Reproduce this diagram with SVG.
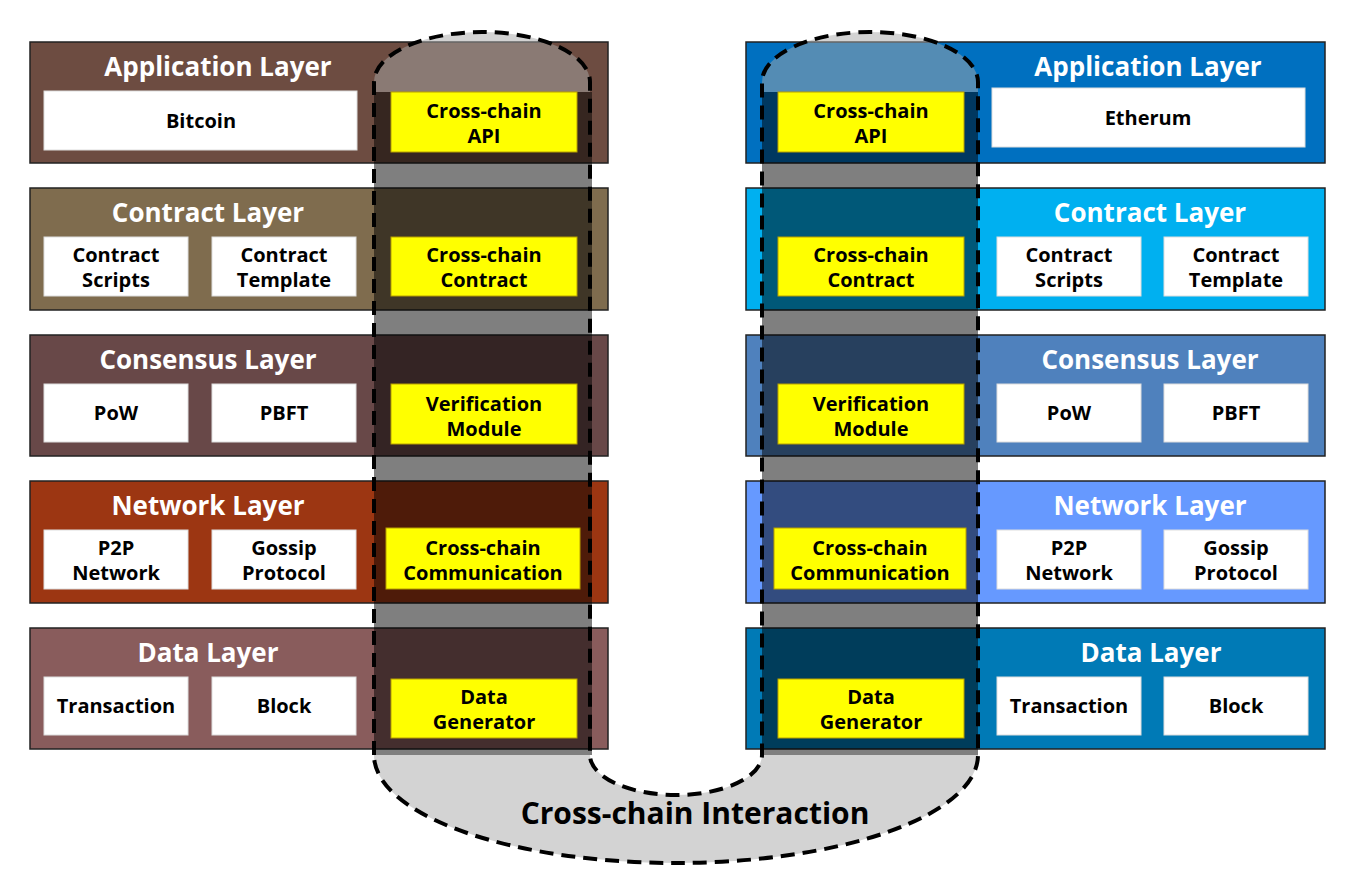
<svg xmlns="http://www.w3.org/2000/svg" width="1355" height="894" viewBox="0 0 1355 894">
<style>
text{font-family:"Open Sans","Noto Sans","DejaVu Sans",sans-serif;font-weight:700;text-anchor:middle}
.layer{stroke:#222;stroke-width:1.5}
.title{fill:#fff;font-size:26px}
.wb{fill:#fff;stroke:#ddd;stroke-width:1}
.yb{fill:#ffff00;stroke:#b8a000;stroke-width:1}
.bt{fill:#000;font-size:20px}
.light{fill:#a7a7a7;fill-opacity:0.5}
.dark{fill:#000;fill-opacity:0.5}
.outline{fill:none;stroke:#000;stroke-width:4;stroke-dasharray:14 8}
</style>
<rect width="1355" height="894" fill="#fff"/>
<!-- left chain -->
<g id="left-application">
<rect class="layer" x="30" y="42" width="578" height="121" fill="#6d4c41"/>
<text class="title" x="218" y="76">Application Layer</text>
<rect class="wb" x="44" y="91" width="313" height="59"/>
<text class="bt" x="201" y="128">Bitcoin</text>
</g>
<g id="left-contract">
<rect class="layer" x="30" y="188" width="578" height="122" fill="#7f6c4e"/>
<text class="title" x="208" y="222">Contract Layer</text>
<rect class="wb" x="44" y="237" width="144" height="59"/>
<text class="bt" x="116" y="262">Contract<tspan x="116" dy="25">Scripts</tspan></text>
<rect class="wb" x="212" y="237" width="144" height="59"/>
<text class="bt" x="284" y="262">Contract<tspan x="284" dy="25">Template</tspan></text>
</g>
<g id="left-consensus">
<rect class="layer" x="30" y="335" width="578" height="121" fill="#684848"/>
<text class="title" x="208" y="369">Consensus Layer</text>
<rect class="wb" x="44" y="384" width="144" height="58"/>
<text class="bt" x="116" y="420">PoW</text>
<rect class="wb" x="212" y="384" width="144" height="58"/>
<text class="bt" x="284" y="420">PBFT</text>
</g>
<g id="left-network">
<rect class="layer" x="30" y="481" width="578" height="122" fill="#9c3612"/>
<text class="title" x="208" y="515">Network Layer</text>
<rect class="wb" x="44" y="530" width="144" height="59"/>
<text class="bt" x="116" y="555">P2P<tspan x="116" dy="25">Network</tspan></text>
<rect class="wb" x="212" y="530" width="144" height="59"/>
<text class="bt" x="284" y="555">Gossip<tspan x="284" dy="25">Protocol</tspan></text>
</g>
<g id="left-data">
<rect class="layer" x="30" y="628" width="578" height="121" fill="#895c5c"/>
<text class="title" x="208" y="662">Data Layer</text>
<rect class="wb" x="44" y="677" width="144" height="58"/>
<text class="bt" x="116" y="713">Transaction</text>
<rect class="wb" x="212" y="677" width="144" height="58"/>
<text class="bt" x="284" y="713">Block</text>
</g>
<!-- right chain -->
<g id="right-application">
<rect class="layer" x="746" y="42" width="579" height="121" fill="#0070c0"/>
<text class="title" x="1148" y="76">Application Layer</text>
<rect class="wb" x="992" y="88" width="313" height="59"/>
<text class="bt" x="1148" y="125">Etherum</text>
</g>
<g id="right-contract">
<rect class="layer" x="746" y="188" width="579" height="122" fill="#00b0f0"/>
<text class="title" x="1150" y="222">Contract Layer</text>
<rect class="wb" x="997" y="237" width="144" height="59"/>
<text class="bt" x="1069" y="262">Contract<tspan x="1069" dy="25">Scripts</tspan></text>
<rect class="wb" x="1164" y="237" width="144" height="59"/>
<text class="bt" x="1236" y="262">Contract<tspan x="1236" dy="25">Template</tspan></text>
</g>
<g id="right-consensus">
<rect class="layer" x="746" y="335" width="579" height="121" fill="#4f81bd"/>
<text class="title" x="1150" y="369">Consensus Layer</text>
<rect class="wb" x="997" y="384" width="144" height="58"/>
<text class="bt" x="1069" y="420">PoW</text>
<rect class="wb" x="1164" y="384" width="144" height="58"/>
<text class="bt" x="1236" y="420">PBFT</text>
</g>
<g id="right-network">
<rect class="layer" x="746" y="481" width="579" height="122" fill="#6699ff"/>
<text class="title" x="1150" y="515">Network Layer</text>
<rect class="wb" x="997" y="530" width="144" height="59"/>
<text class="bt" x="1069" y="555">P2P<tspan x="1069" dy="25">Network</tspan></text>
<rect class="wb" x="1164" y="530" width="144" height="59"/>
<text class="bt" x="1236" y="555">Gossip<tspan x="1236" dy="25">Protocol</tspan></text>
</g>
<g id="right-data">
<rect class="layer" x="746" y="628" width="579" height="121" fill="#007ab6"/>
<text class="title" x="1151" y="662">Data Layer</text>
<rect class="wb" x="997" y="677" width="144" height="58"/>
<text class="bt" x="1069" y="713">Transaction</text>
<rect class="wb" x="1164" y="677" width="144" height="58"/>
<text class="bt" x="1236" y="713">Block</text>
</g>
<!-- cross-chain interaction overlay -->
<g id="interaction-overlay">
<path class="light" d="M374,92 V82 A108,50 0 0 1 590,82 V92 Z"/>
<path class="light" d="M762,92 V82 A108,50 0 0 1 978,82 V92 Z"/>
<rect class="dark" x="374" y="92" width="218" height="663"/>
<rect class="dark" x="762" y="92" width="216" height="663"/>
<path class="light" d="M374,755 A302,108 0 0 0 978,755 H762 A86,40 0 0 1 590,755 Z"/>
</g>
<!-- cross-chain modules -->
<g id="left-api"><rect class="yb" x="391" y="92" width="186" height="60"/><text class="bt" x="484" y="118">Cross-chain<tspan x="484" dy="25">API</tspan></text></g>
<g id="left-contract-module"><rect class="yb" x="391" y="237" width="186" height="59"/><text class="bt" x="484" y="262">Cross-chain<tspan x="484" dy="25">Contract</tspan></text></g>
<g id="left-verification"><rect class="yb" x="391" y="384" width="186" height="60"/><text class="bt" x="484" y="411">Verification<tspan x="484" dy="25">Module</tspan></text></g>
<g id="left-communication"><rect class="yb" x="386" y="528" width="194" height="61"/><text class="bt" x="483" y="555">Cross-chain<tspan x="483" dy="25">Communication</tspan></text></g>
<g id="left-generator"><rect class="yb" x="391" y="679" width="186" height="59"/><text class="bt" x="484" y="704">Data<tspan x="484" dy="25">Generator</tspan></text></g>
<g id="right-api"><rect class="yb" x="778" y="92" width="186" height="60"/><text class="bt" x="871" y="118">Cross-chain<tspan x="871" dy="25">API</tspan></text></g>
<g id="right-contract-module"><rect class="yb" x="778" y="237" width="186" height="59"/><text class="bt" x="871" y="262">Cross-chain<tspan x="871" dy="25">Contract</tspan></text></g>
<g id="right-verification"><rect class="yb" x="778" y="384" width="186" height="60"/><text class="bt" x="871" y="411">Verification<tspan x="871" dy="25">Module</tspan></text></g>
<g id="right-communication"><rect class="yb" x="774" y="528" width="192" height="61"/><text class="bt" x="870" y="555">Cross-chain<tspan x="870" dy="25">Communication</tspan></text></g>
<g id="right-generator"><rect class="yb" x="778" y="679" width="186" height="59"/><text class="bt" x="871" y="704">Data<tspan x="871" dy="25">Generator</tspan></text></g>
<g id="connectors">
<path class="outline" d="M374,755 V82 A108,50 0 0 1 590,82 V755 A86,40 0 0 0 762,755 V82 A108,50 0 0 1 978,82 V755 A302,108 0 0 1 374,755 Z"/>
</g>
<text x="695" y="824" style="font-size:30px;fill:#000">Cross-chain Interaction</text>
</svg>
